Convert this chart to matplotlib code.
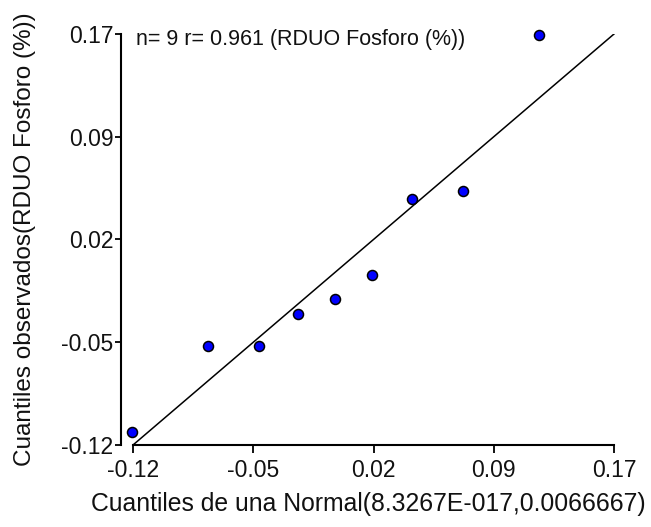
import matplotlib
matplotlib.use("Agg")
import matplotlib.pyplot as plt

plt.rcParams['font.family'] = ['Liberation Sans', 'DejaVu Sans']

# Data (tick positions evenly spaced, labels as shown)
theoretical = [-0.1204, -0.0750, -0.0442, -0.0203, 0.0016, 0.0241, 0.0484, 0.0788, 0.1246]
observed = [-0.1106, -0.0499, -0.0499, -0.0276, -0.0172, -0.0003, 0.0534, 0.0590, 0.1693]
ref_line = [-0.12, 0.17]
tick_values = [-0.12, -0.0475, 0.025, 0.0975, 0.17]
tick_labels = ["-0.12", "-0.05", "0.02", "0.09", "0.17"]
annotation = "n= 9 r= 0.961 (RDUO Fosforo (%))"
xlabel = "Cuantiles de una Normal(8.3267E-017,0.0066667)"
ylabel = "Cuantiles observados(RDUO Fosforo (%))"

fig = plt.figure(figsize=(6.51, 5.27), dpi=100)
ax = fig.add_axes([121/651, (527-445)/527, (616-121)/651, 411/527])

ax.plot(ref_line, ref_line, color='black', lw=1.1, zorder=2)
ax.plot(theoretical, observed, 'o', ms=7.2, mfc='#0000ff', mec='black', mew=1.1,
        clip_on=False, zorder=3)

ax.set_xlim(-0.12 - 12*0.29/481, 0.17 + 2*0.29/481)
ax.set_ylim(-0.12, 0.17)

ax.spines['top'].set_visible(False)
ax.spines['right'].set_visible(False)
for s in ('left', 'bottom'):
    ax.spines[s].set_linewidth(1.5)
ax.spines['bottom'].set_bounds(-0.12, 0.17)

ax.set_xticks(tick_values)
ax.set_xticklabels(tick_labels)
ax.set_yticks(tick_values)
ax.set_yticklabels(tick_labels)
ax.tick_params(axis='x', length=6, width=1.3, pad=4, labelsize=16.5, labelcolor='#111111')
ax.tick_params(axis='y', length=4.5, width=1.3, pad=1, labelsize=16.5, labelcolor='#111111')

ax.set_xlabel(xlabel, fontsize=17.8, va='center', color='#111111')
ax.xaxis.set_label_coords(0.5, -(504-445)/411)
ax.set_ylabel(ylabel, fontsize=17.5, va='center', color='#111111')
ax.yaxis.set_label_coords((25-121)/495, 0.5)

ax.text((136-121)/495, 1-(40-34)/411, annotation, transform=ax.transAxes,
        fontsize=15.5, ha='left', va='center', color='#111111')

fig.savefig("out.png", dpi=100)
